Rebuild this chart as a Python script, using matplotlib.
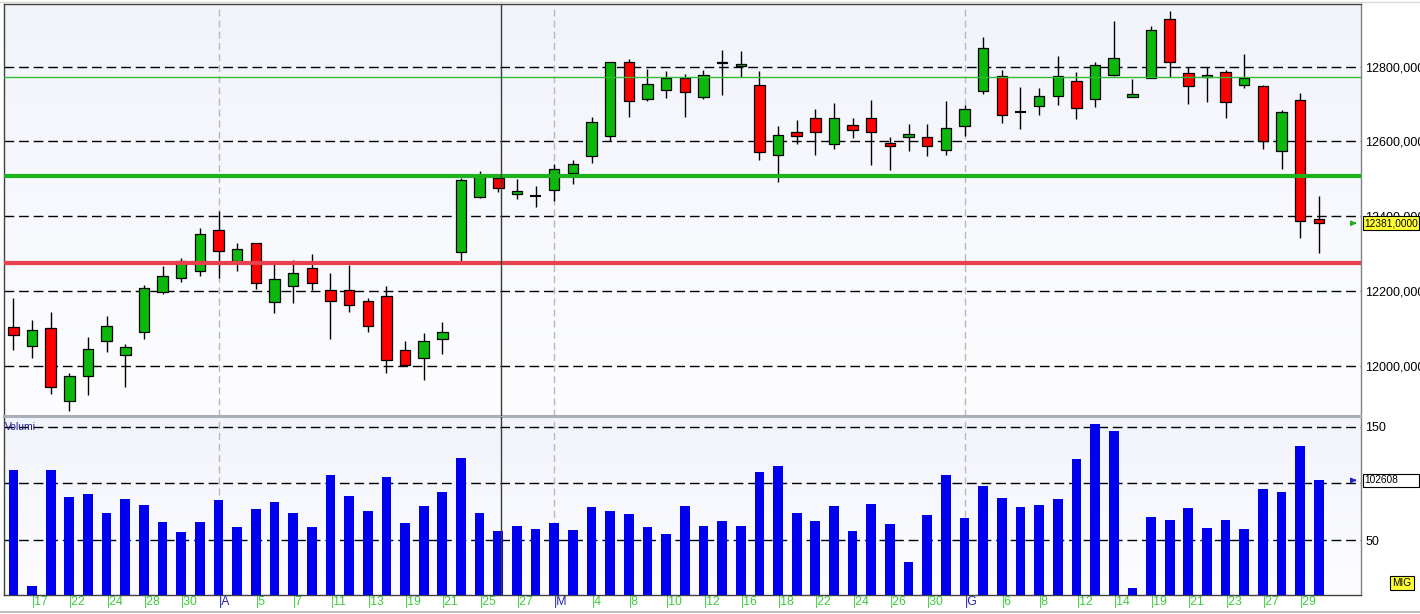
import numpy as np
import matplotlib.pyplot as plt
from matplotlib import transforms
from matplotlib.colors import LinearSegmentedColormap
from matplotlib.patches import Rectangle
from matplotlib.lines import Line2D

# daily candles (open, high, low, close)
opens = [12103, 12052, 12100, 11905, 11972, 12066, 12028, 12090, 12196, 12235,
         12252, 12364, 12281, 12327, 12169, 12212, 12262, 12201, 12201, 12172,
         12185, 12043, 12020, 12072, 12305, 12450, 12503, 12458, 12454, 12470,
         12516, 12560, 12614, 12812, 12714, 12738, 12769, 12720, 12814, 12801,
         12750, 12564, 12624, 12664, 12592, 12643, 12664, 12595, 12613, 12611,
         12576, 12642, 12734, 12775, 12680, 12694, 12723, 12761, 12715, 12779,
         12720, 12769, 12927, 12784, 12773, 12785, 12750, 12748, 12575, 12711,
         12392]
highs = [12181, 12121, 12143, 11979, 12076, 12132, 12057, 12215, 12266, 12287,
         12368, 12413, 12328, 12328, 12271, 12282, 12298, 12249, 12270, 12180,
         12212, 12065, 12086, 12116, 12502, 12520, 12514, 12499, 12481, 12539,
         12550, 12665, 12814, 12820, 12793, 12788, 12780, 12791, 12845, 12842,
         12788, 12641, 12657, 12687, 12702, 12662, 12711, 12612, 12646, 12648,
         12708, 12697, 12880, 12791, 12746, 12743, 12828, 12786, 12812, 12922,
         12767, 12909, 12948, 12800, 12800, 12791, 12835, 12750, 12683, 12729,
         12454]
lows = [12042, 12020, 11925, 11878, 11920, 12036, 11943, 12071, 12191, 12224,
        12240, 12235, 12254, 12205, 12141, 12168, 12201, 12070, 12144, 12090,
        11980, 12000, 11961, 12030, 12277, 12449, 12465, 12445, 12425, 12440,
        12487, 12543, 12600, 12666, 12709, 12716, 12666, 12714, 12724, 12772,
        12550, 12492, 12593, 12563, 12580, 12610, 12537, 12523, 12575, 12561,
        12565, 12614, 12728, 12650, 12634, 12671, 12698, 12661, 12693, 12775,
        12718, 12769, 12772, 12700, 12706, 12664, 12742, 12579, 12527, 12342,
        12302]
closes = [12083, 12095, 11943, 11971, 12044, 12105, 12049, 12209, 12241, 12281,
          12351, 12308, 12313, 12220, 12233, 12249, 12220, 12174, 12163, 12106,
          12015, 12002, 12067, 12091, 12496, 12507, 12476, 12467, 12454, 12525,
          12539, 12651, 12812, 12707, 12753, 12770, 12733, 12777, 12809, 12807,
          12572, 12616, 12615, 12626, 12664, 12631, 12624, 12588, 12621, 12587,
          12635, 12686, 12851, 12672, 12680, 12721, 12774, 12689, 12806, 12823,
          12726, 12898, 12814, 12749, 12779, 12705, 12770, 12600, 12678, 12388,
          12381]
volumes = [111.7, 9.7, 111.7, 87.9, 90.6, 73.8, 86.2, 80.9, 65.9, 57.1,
           65.9, 85.3, 61.5, 77.3, 83.5, 73.8, 61.5, 107.3, 88.8, 75.6,
           105.6, 65.0, 80.0, 92.3, 122.3, 73.8, 57.9, 62.3, 59.7, 65.0,
           58.8, 79.1, 75.6, 72.9, 61.5, 55.3, 80.0, 62.3, 66.8, 62.3,
           110.0, 115.3, 73.8, 66.8, 80.0, 57.9, 81.8, 64.1, 30.6, 72.0,
           107.3, 69.4, 97.6, 87.0, 79.1, 80.9, 86.2, 121.4, 152.3, 146.1,
           7.7, 70.3, 67.6, 78.2, 60.6, 67.6, 59.7, 95.0, 92.3, 132.9,
           102.608]

# date labels, one every second candle starting at candle 1
date_labels = ['17', '22', '24', '28', '30', 'A', '5', '7', '11', '13', '19', '21',
               '25', '27', 'M', '4', '8', '10', '12', '16', '18', '22', '24', '26',
               '30', 'G', '6', '8', '12', '14', '19', '21', '23', '27', '29']
month_labels = ['A', 'M', 'G']

price_ticks = [12000, 12200, 12400, 12600, 12800]
volume_ticks = [50, 100, 150]
level_thin_green = 12772
level_green = 12507
level_red = 12274
cursor_x = 26.13

plt.rcParams['font.family'] = ['Liberation Sans', 'DejaVu Sans']

fig = plt.figure(figsize=(14.2, 6.14), dpi=100)
fig.patch.set_facecolor('white')

W, H = 1420.0, 614.0
ax = fig.add_axes([4 / W, 1 - 416 / H, 1357 / W, 412 / H])
axv = fig.add_axes([4 / W, 1 - 595 / H, 1357 / W, 178 / H], sharex=ax)

grad = LinearSegmentedColormap.from_list('bg', ['#FDFDFF', '#F2F4FC'])
for a in (ax, axv):
    a.imshow(np.linspace(0, 1, 100).reshape(-1, 1)[::-1], cmap=grad, aspect='auto',
             extent=(0, 1, 0, 1), transform=a.transAxes, zorder=0)

n = len(opens)
x = np.arange(n)
body_w = 0.56

dash = (0, (7, 3.5))
for p in price_ticks:
    ax.axhline(p, color='black', lw=1, ls=dash, zorder=1)
for v in volume_ticks:
    axv.axhline(v, color='black', lw=1, ls=dash, zorder=1)

month_pos = [1 + 2 * date_labels.index(m) for m in month_labels]
for a in (ax, axv):
    for mp in month_pos:
        a.axvline(mp, color='#B8B8B8', lw=1, ls=(0, (5, 3)), zorder=1)
    a.axvline(cursor_x, color='#3A3A3A', lw=1, zorder=6)

# candles
o = np.array(opens)
c = np.array(closes)
ax.vlines(x, lows, highs, color='black', lw=1, zorder=3)
up = c > o
dn = c < o
eq = c == o
ax.bar(x[up], (c - o)[up], bottom=o[up], width=body_w, color='#0DB80D',
       edgecolor='black', lw=0.9, zorder=4)
ax.bar(x[dn], (o - c)[dn], bottom=c[dn], width=body_w, color='#FF0000',
       edgecolor='black', lw=0.9, zorder=4)
ax.hlines(c[eq], x[eq] - body_w / 2, x[eq] + body_w / 2, color='black', lw=1.5, zorder=4)

ax.axhline(level_thin_green, color='#33BB33', lw=1, zorder=5)
ax.axhline(level_green, color='#1DB31D', lw=3, zorder=5)
ax.axhline(level_red, color='#E8404C', lw=3, zorder=5)

# volume bars
axv.bar(x, volumes, width=0.52, color='#0000EE', zorder=3)

ax.set_xlim(-0.504, 72.26)
ax.set_ylim(11865, 12968)
axv.set_ylim(1.5, 158.5)

ax.yaxis.tick_right()
ax.set_yticks(price_ticks)
ax.set_yticklabels([f'{p},0000' for p in price_ticks])
ax.tick_params(axis='y', length=0, pad=3, labelsize=9)
ax.tick_params(axis='x', length=0, labelbottom=False)

axv.yaxis.tick_right()
axv.set_yticks(volume_ticks)
axv.set_yticklabels([str(v) for v in volume_ticks])
axv.tick_params(axis='y', length=0, pad=3, labelsize=9)

tick_pos = [1 + 2 * k for k in range(len(date_labels))]
axv.set_xticks(tick_pos)
axv.set_xticklabels(['|' + s for s in date_labels], ha='left', fontsize=8.8)
axv.tick_params(axis='x', length=0, pad=1)
for lab, s in zip(axv.get_xticklabels(), date_labels):
    lab.set_color('#2222AA' if s in month_labels else '#3CCB3C')

for a in (ax, axv):
    for s in a.spines.values():
        s.set_color('#404040')
        s.set_linewidth(1)
ax.spines['right'].set_color('#808080')
axv.spines['right'].set_color('#808080')
ax.spines['bottom'].set_color('#A8B0B8')
ax.spines['bottom'].set_linewidth(1.5)
axv.spines['top'].set_color('#A8B0B8')
axv.spines['top'].set_linewidth(1.5)

axv.text(0.001, 150, 'Volumi', transform=transforms.blended_transform_factory(axv.transAxes, axv.transData),
         fontsize=7.5, color='#1A1A8C', va='center', ha='left', zorder=7)

# last price marker
bt = transforms.blended_transform_factory(ax.transAxes, ax.transData)
last = closes[-1]
ax.add_patch(Rectangle((1.0015, last - 19), 0.0413, 38, transform=bt, fc='#FFFF33',
                       ec='black', lw=0.8, clip_on=False, zorder=10))
ax.text(1.0025, last, f'{last},0000', transform=bt, fontsize=7.3, va='center',
        ha='left', zorder=11, clip_on=False)
ax.annotate('', xy=(0.9988, last), xytext=(0.9935, last), xycoords=bt, textcoords=bt,
            arrowprops=dict(arrowstyle='-|>', color='#22AA22', lw=1.2, mutation_scale=7),
            zorder=11)

# last volume marker
bv = transforms.blended_transform_factory(axv.transAxes, axv.transData)
lv = volumes[-1]
axv.add_patch(Rectangle((1.0015, lv - 5.5), 0.0413, 11, transform=bv, fc='white',
                        ec='black', lw=0.8, clip_on=False, zorder=10))
axv.text(1.0025, lv, f'{round(lv * 1000)}', transform=bv, fontsize=7.3, va='center',
         ha='left', zorder=11, clip_on=False)
axv.annotate('', xy=(0.9988, lv), xytext=(0.9935, lv), xycoords=bv, textcoords=bv,
             arrowprops=dict(arrowstyle='-|>', color='#2222CC', lw=1.2, mutation_scale=7),
             zorder=11)

fig.text(1402 / W, 1 - 583 / H, 'MIG', fontsize=7.3, ha='center', va='center',
         bbox=dict(boxstyle='square,pad=0.2', fc='#FFFF33', ec='black', lw=0.8))

fig.add_artist(Line2D([0, 1], [1 - 611.5 / H] * 2, transform=fig.transFigure,
                      color='#C0C0C0', lw=1.5))
fig.add_artist(Line2D([0, 1], [1 - 1.5 / H] * 2, transform=fig.transFigure,
                      color='#D8D8D0', lw=1))

fig.savefig('out.png', dpi=100)
